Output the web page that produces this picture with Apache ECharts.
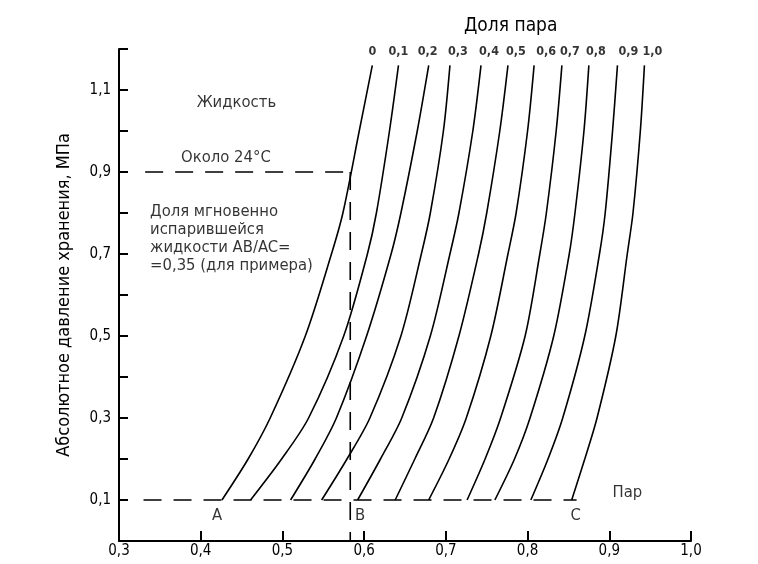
<!DOCTYPE html>
<html>
<head>
<meta charset="utf-8">
<script src="https://cdn.jsdelivr.net/npm/echarts@6/dist/echarts.min.js"></script>
<style>
html, body { margin: 0; padding: 0; background: #fff; }
#main { width: 758px; height: 564px; }
</style>
</head>
<body>
<div id="main"></div>
<script>
// pressure levels (MPa) at which the curves were read
var pressures = [0.1, 0.2, 0.3, 0.5, 0.7, 0.8, 1.0, 1.16];

// vapour fraction of each curve
var qualities = ['0', '0,1', '0,2', '0,3', '0,4', '0,5', '0,6', '0,7', '0,8', '0,9', '1,0'];

// x position (enthalpy scale) of each curve at the pressures above
var curveX = [
    [0.426, 0.458, 0.485, 0.528, 0.560, 0.574, 0.594, 0.610],
    [0.461, 0.499, 0.532, 0.575, 0.604, 0.615, 0.631, 0.642],
    [0.510, 0.540, 0.566, 0.603, 0.633, 0.645, 0.665, 0.679],
    [0.548, 0.579, 0.607, 0.645, 0.670, 0.681, 0.697, 0.705],
    [0.592, 0.620, 0.646, 0.681, 0.705, 0.716, 0.733, 0.743],
    [0.638, 0.662, 0.685, 0.716, 0.740, 0.750, 0.766, 0.776],
    [0.679, 0.704, 0.725, 0.755, 0.776, 0.786, 0.800, 0.808],
    [0.726, 0.748, 0.767, 0.797, 0.815, 0.823, 0.835, 0.842],
    [0.760, 0.784, 0.803, 0.832, 0.851, 0.858, 0.869, 0.875],
    [0.804, 0.825, 0.843, 0.870, 0.888, 0.895, 0.904, 0.910],
    [0.854, 0.870, 0.885, 0.908, 0.922, 0.929, 0.938, 0.943]
];

// dashed guide lines: storage pressure 0.1, 0.9 and point B
var guideLow = [[0.33, 0.1], [0.86, 0.1]];
var guideHigh = [[0.332, 0.9], [0.583, 0.9]];
var guideB = [[0.583, 0.9], [0.583, 0]];

// text notes in data coordinates
var notes = [
    { x: 0.395, y: 1.068, text: 'Жидкость' },
    { x: 0.376, y: 0.934, text: 'Около 24°С' },
    { x: 0.338, y: 0.826, text: 'Доля мгновенно\nиспарившейся\nжидкости AB/AC=\n=0,35 (для примера)', top: true },
    { x: 0.420, y: 0.061, text: 'A' },
    { x: 0.595, y: 0.061, text: 'B' },
    { x: 0.859, y: 0.061, text: 'C' },
    { x: 0.904, y: 0.117, text: 'Пар' }
];

var FONT = '"DejaVu Sans Condensed", "Liberation Sans Narrow", "Liberation Sans", sans-serif';

// horizontal nudge (px) of the quality labels, as in the drawing
var labelNudge = [0, 0, -1, 8, 8, 8, 12, 8, 7, 11, 8];

function comma(v) {
    return v.toFixed(1).replace('.', ',');
}

var myChart = echarts.init(document.getElementById('main'));

var series = [];

qualities.forEach(function (q, i) {
    series.push({
        name: q,
        type: 'line',
        smooth: 0.3,
        symbol: 'none',
        data: curveX[i].map(function (x, j) {
            return [x, pressures[j]];
        }),
        lineStyle: { color: '#000', width: 1.6 },
        silent: true
    });
});

// quality labels above the top end of each curve
series.push({
    type: 'scatter',
    symbolSize: 0,
    clip: false,
    silent: true,
    data: qualities.map(function (q, i) {
        var xs = curveX[i];
        return {
            value: [xs[xs.length - 1], pressures[pressures.length - 1]],
            name: q,
            label: { offset: [labelNudge[i], 0] }
        };
    }),
    label: {
        show: true,
        position: 'top',
        distance: 7,
        formatter: '{b}',
        color: '#000',
        fontFamily: FONT,
        fontSize: 12.5,
        fontWeight: 'bold'
    }
});

[guideLow, guideHigh, guideB].forEach(function (g) {
    series.push({
        type: 'line',
        symbol: 'none',
        data: g,
        lineStyle: { color: '#000', width: 1.6, type: [18, 12] },
        silent: true
    });
});

series.push({
    type: 'scatter',
    symbolSize: 0,
    clip: false,
    silent: true,
    data: notes.map(function (n) {
        return {
            value: [n.x, n.y],
            label: {
                show: true,
                position: 'inside',
                formatter: n.text,
                align: n.text.length > 1 ? 'left' : 'center',
                verticalAlign: n.top ? 'top' : 'middle',
                lineHeight: 18,
                color: '#000',
                fontFamily: FONT,
                fontSize: 16.5
            }
        };
    })
});

var option = {
    animation: false,
    title: {
        text: 'Доля пара',
        left: 459,
        top: 12,
        textStyle: { fontFamily: FONT, fontSize: 19, fontWeight: 'normal', color: '#000' }
    },
    grid: { left: 119, right: 67, top: 49, bottom: 23 },
    xAxis: {
        type: 'value',
        min: 0.3,
        max: 1.0,
        interval: 0.1,
        splitLine: { show: false },
        axisLine: { lineStyle: { color: '#000', width: 2 } },
        axisTick: { inside: true, length: 10, lineStyle: { color: '#000', width: 2 } },
        axisLabel: {
            margin: 3,
            color: '#000',
            fontFamily: FONT,
            fontSize: 15,
            formatter: comma
        }
    },
    yAxis: {
        type: 'value',
        min: 0,
        max: 1.2,
        interval: 0.1,
        name: 'Абсолютное давление хранения, МПа',
        nameLocation: 'middle',
        nameGap: 46,
        nameTextStyle: { color: '#000', fontFamily: FONT, fontSize: 18 },
        splitLine: { show: false },
        axisLine: { lineStyle: { color: '#000', width: 2 } },
        axisTick: { inside: true, length: 9, lineStyle: { color: '#000', width: 2 } },
        axisLabel: {
            margin: 8,
            color: '#000',
            fontFamily: FONT,
            fontSize: 15,
            formatter: function (v) {
                return Math.round(v * 10) % 2 === 1 ? comma(v) : '';
            }
        }
    },
    series: series
};

myChart.setOption(option);

window.onresize = function () {
    myChart.resize();
};
</script>
</body>
</html>
